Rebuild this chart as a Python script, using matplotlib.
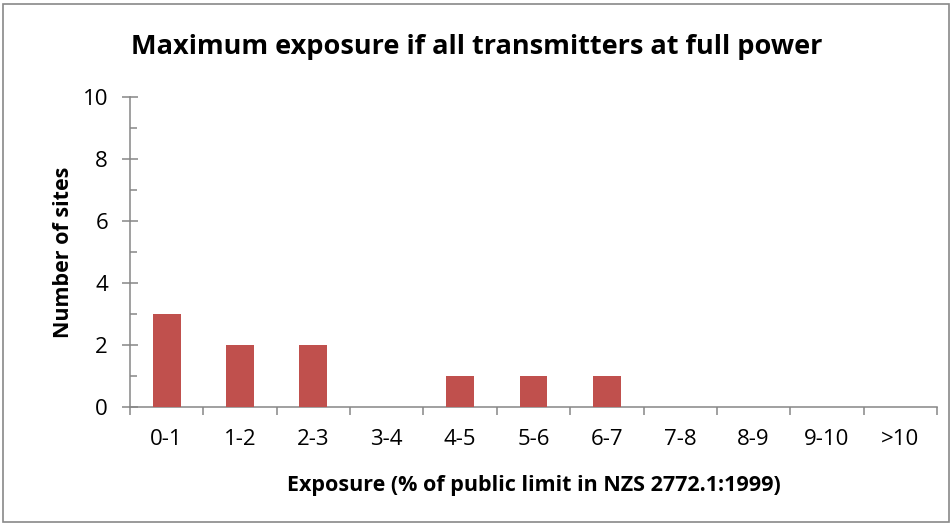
import numpy as np
import matplotlib.pyplot as plt
from matplotlib.patches import Rectangle
from matplotlib.ticker import MultipleLocator

categories = ['0-1', '1-2', '2-3', '3-4', '4-5', '5-6', '6-7', '7-8', '8-9', '9-10', '>10']
sites = [3, 2, 2, 0, 1, 1, 1, 0, 0, 0, 0]

plt.rcParams['font.family'] = ['Open Sans', 'DejaVu Sans']
axis_col = '#868686'

fig = plt.figure(figsize=(9.53, 5.26), dpi=100)
ax = fig.add_axes([130 / 953, 1 - 407 / 526, 807 / 953, 310 / 526])

x = np.arange(len(categories))
ax.bar(x, sites, width=0.38, color='#C0504D', linewidth=0, zorder=3)

ax.set_xlim(-0.5, len(categories) - 0.5)
ax.set_ylim(0, 10)
ax.set_xticks(x)
ax.set_xticklabels(categories, fontsize=16)
ax.set_xticks(np.arange(-0.5, len(categories)), minor=True)
ax.tick_params(axis='x', which='major', length=0, pad=16)
ax.tick_params(axis='x', which='minor', length=6, direction='out', color=axis_col, width=1.1)

ax.yaxis.set_major_locator(MultipleLocator(2))
ax.yaxis.set_minor_locator(MultipleLocator(1))
ax.tick_params(axis='y', which='major', length=11.5, direction='inout', color=axis_col, width=1.1, labelsize=16, pad=10)
ax.tick_params(axis='y', which='minor', length=5, direction='in', color=axis_col, width=1.1)

for s in ['top', 'right']:
    ax.spines[s].set_visible(False)
for s in ['left', 'bottom']:
    ax.spines[s].set_color(axis_col)
    ax.spines[s].set_linewidth(1.1)

ax.set_ylabel('Number of sites', fontsize=15.5, fontweight='bold', va='center')
ax.yaxis.set_label_coords((63 - 130) / 807, 0.5)
ax.set_xlabel('Exposure (% of public limit in NZS 2772.1:1999)', fontsize=15.5, fontweight='bold', va='center')
ax.xaxis.set_label_coords(0.5, (407 - 486) / 310)
fig.text(0.5, 1 - 47 / 526, 'Maximum exposure if all transmitters at full power',
         ha='center', va='center', fontsize=19.5, fontweight='bold')

fig.patches.append(Rectangle((3 / 953, 4 / 526), 946 / 953, 518 / 526, transform=fig.transFigure,
                             fill=False, edgecolor='#898989', linewidth=1.2))

fig.savefig('out.png', dpi=100)
